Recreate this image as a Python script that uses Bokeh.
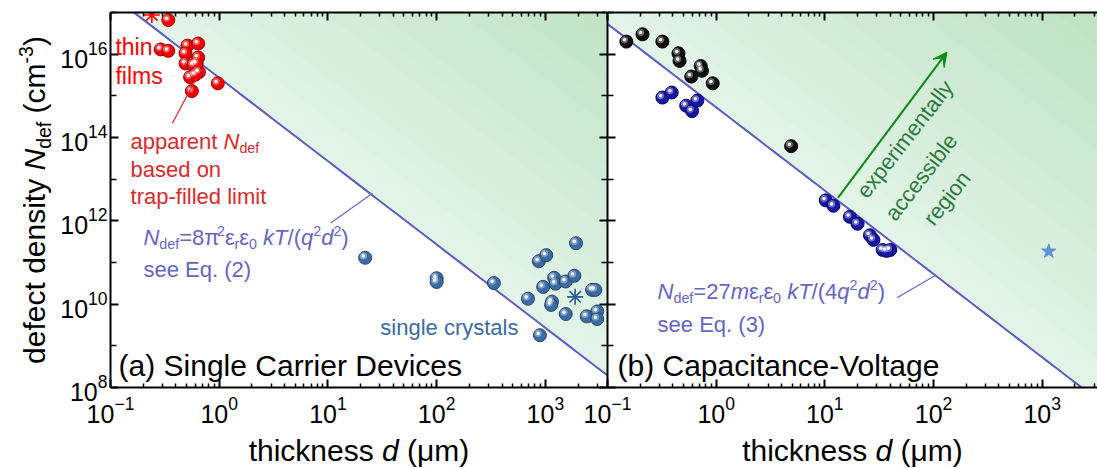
import numpy as np
from math import pi, cos, sin, log10
from bokeh.plotting import figure
from bokeh.models import (LogAxis, FixedTicker, Range1d, Label, Arrow, VeeHead,
                          CustomJSTickFormatter)
from bokeh.layouts import row, column
from bokeh.embed import file_html
from bokeh.resources import INLINE

FONT = "Liberation Sans"

# ---------------- data ----------------
# (a) single carrier devices -- thin films (apparent N_def from trap-filled limit)
thin_film_d = [0.34, 0.29, 0.34, 0.51, 0.64, 0.64, 0.49, 0.49, 0.58, 0.65, 0.54, 0.60, 0.56, 0.97, 0.62]
thin_film_n = [6.6e16, 1.3e16, 1.2e16, 1.6e16, 1.8e16, 8.3e15, 1.05e16, 6.0e15, 5.5e15,
               3.7e15, 2.8e15, 3.2e15, 1.3e15, 2.0e15, 6.0e15]
thin_film_star_d = [0.24]
thin_film_star_n = [8.7e16]
# (a) single crystals
crystal_d = [22, 100, 100, 336, 692, 891, 871, 1020, 1915, 955, 1205, 1240, 1540, 1850,
             1150, 1130, 1540, 2690, 2880, 2400, 3000, 3000]
crystal_n = [1.3e11, 4.2e10, 3.4e10, 3.2e10, 1.35e10, 1.8e9, 1.07e11, 1.5e11, 2.9e11, 2.6e10,
             4.3e10, 3.1e10, 3.5e10, 4.8e10, 1.15e10, 9.6e9, 5.8e9, 2.2e10, 2.2e10, 5.1e9, 6.7e9, 4.4e9]
crystal_star_d = [1880]
crystal_star_n = [1.5e10]
# (b) capacitance-voltage
cv_black_d = [0.149, 0.21, 0.32, 0.45, 0.46, 0.59, 0.72, 0.74, 0.93, 4.9]
cv_black_n = [2.0e16, 3.0e16, 2.0e16, 1.05e16, 6.9e15, 2.9e15, 5.2e15, 4.0e15, 2.0e15, 6.2e13]
cv_blue_d = [0.32, 0.39, 0.53, 0.60, 0.67, 10.2, 12, 17, 20, 26, 28, 34, 40, 37]
cv_blue_n = [9.1e14, 1.2e15, 5.8e14, 4.3e14, 7.7e14, 3.1e12, 2.3e12, 1.25e12, 8.5e11,
             4.5e11, 3.5e11, 2.0e11, 2.0e11, 1.9e11]
cv_star_d = [1150]
cv_star_n = [1.85e11]

# limit lines  N_def = C / d^2
C_SCLC = 2.7e15
C_CV = 5.3e14

x_range_a = (0.1, 3730)
x_range_b = (0.1, 3230)
y_range = (1e8, 1e17)
x_major = [0.1, 1, 10, 100, 1000]
x_minor = [m * 10.0 ** e for e in range(-1, 4) for m in range(2, 10)]
y_major = [1e8, 1e10, 1e12, 1e14, 1e16]
y_minor = [1e9, 1e11, 1e13, 1e15, 1e17]

# ---------------- geometry / styles ----------------
TOTAL_W = 1097
H = 468
TOP = 12
FRAME_H = 375
LEFT = 110
FRAME_A_W = 497
OVER = 25
FRAME_B_W = TOTAL_W - LEFT - FRAME_A_W
PXY = FRAME_H / 9.0
PXX_A = FRAME_A_W / log10(x_range_a[1] / x_range_a[0])
PXX_B = FRAME_B_W / log10(x_range_b[1] / x_range_b[0])
BASE_FIX = 0.3   # compensation for where the label baseline lands

LINE = "#5c5cc4"
FORM = "#6565c6"
RED = "#ff0000"
RED_TXT = "#d92b2b"
STEEL = "#3b6ba5"
GREEN_ARROW = "#0b8a12"
GREEN_TXT = "#2b7a3b"

W = {' ': 278, '(': 333, ')': 333, '-': 333, '.': 278, '/': 278, '=': 584, 'π': 576,
     'ε': 440, 'μ': 576, 'a': 556, 'b': 556, 'c': 500, 'd': 556, 'e': 556, 'f': 278,
     'g': 556, 'h': 556, 'i': 222, 'k': 500, 'l': 222, 'm': 833, 'n': 556, 'o': 556,
     'p': 556, 'q': 556, 'r': 333, 's': 500, 't': 278, 'u': 556, 'v': 500, 'y': 500,
     'C': 722, 'D': 722, 'E': 667, 'N': 722, 'S': 667, 'T': 611, 'V': 667}


def text_w(s, size):
    return sum(W.get(c, 556) for c in s) / 1000.0 * size


def rich(p, x, y, parts, size, color, angle=0.0, align="left", x_off=0.0, y_off=0.0):
    scale = {"n": 1.0, "i": 1.0, "sub": 0.65, "sup": 0.65}
    widths = [text_w(t, size * scale[k]) for t, k in parts]
    total = sum(widths)
    adv = {"left": 0.0, "center": -total / 2.0, "right": -total}[align]
    ca, sa = cos(angle), sin(angle)
    for (t, k), w in zip(parts, widths):
        fs = size * scale[k]
        lead = len(t) - len(t.lstrip(" "))
        shown = t.strip(" ")
        a = adv + text_w(" " * lead, fs)
        up = {"n": 0.0, "i": 0.0, "sub": -0.2 * size, "sup": 0.4 * size}[k] + BASE_FIX * fs
        ox = x_off + a * ca - up * sa
        oy = y_off + a * sa + up * ca
        if shown:
            p.add_layout(Label(x=x, y=y, text=shown, x_offset=ox, y_offset=oy, angle=angle,
                               text_font=FONT, text_font_size=f"{fs:.1f}px",
                               text_font_style="italic" if k == "i" else "normal",
                               text_color=color, text_align="left", text_baseline="alphabetic"))
        adv += w


def style_axis(ax, ticks, minor, tin, tout, mtin, mtout, labels=True, standoff=8):
    ax.ticker = FixedTicker(ticks=ticks, minor_ticks=minor)
    ax.axis_line_width = 2
    ax.axis_line_color = "black"
    ax.major_tick_line_width = 2
    ax.minor_tick_line_width = 1.5
    ax.major_tick_line_color = "black"
    ax.minor_tick_line_color = "black"
    ax.major_tick_in = tin
    ax.major_tick_out = tout
    ax.minor_tick_in = mtin
    ax.minor_tick_out = mtout
    ax.major_label_text_font = FONT
    ax.major_label_text_color = "black"
    if labels:
        ax.major_label_text_font_size = "25px"
        ax.major_label_standoff = standoff
    else:
        ax.formatter = CustomJSTickFormatter(code="return ''")
        ax.major_label_text_font_size = "0px"
        ax.major_label_standoff = 0


def make_fig(xr, frame_w, left_border):
    p = figure(width=left_border + frame_w, height=H, x_axis_type="log", y_axis_type="log",
               x_range=Range1d(*xr), y_range=Range1d(*y_range), title=None,
               output_backend="svg", toolbar_location=None,
               min_border_left=left_border, min_border_right=0,
               min_border_top=TOP, min_border_bottom=H - TOP - FRAME_H)
    p.outline_line_color = None
    p.grid.visible = False
    p.background_fill_color = "white"
    return p


def green_region(p, C, xr):
    ds = np.logspace(log10(xr[0]), log10(xr[1]), 300)
    xs, ys, alphas, colors = [], [], [], []
    for j in range(0, 19):
        k = 10 ** (0.5 * j)
        ns = np.clip(k * C / ds ** 2, y_range[0], y_range[1])
        xs.append(list(ds) + [xr[1], xr[0]])
        ys.append(list(ns) + [y_range[1], y_range[1]])
        if j == 0:
            colors.append("#e2f4e7")
            alphas.append(1.0)
        else:
            colors.append("#2f9e58")
            alphas.append(0.012)
    p.patches(xs, ys, fill_color=colors, fill_alpha=alphas, line_color=None)


def limit_line(p, C, xr):
    ds = np.logspace(log10(xr[0]), log10(xr[1]), 50)
    p.line(ds, C / ds ** 2, line_color=LINE, line_width=2)


def balls(p, d, n, base, edge, size, pxx):
    p.scatter(d, n, size=size, fill_color=base, line_color=edge, line_width=1)
    sh = size * 0.14
    hd = [v * 10 ** (-sh / pxx) for v in d]
    hn = [v * 10 ** (sh / PXY) for v in n]
    p.scatter(hd, hn, size=size * 0.55, fill_color="white", fill_alpha=0.35, line_color=None)
    p.scatter(hd, hn, size=size * 0.28, fill_color="white", fill_alpha=0.9, line_color=None)


# ================= panel (a) =================
p1 = make_fig(x_range_a, FRAME_A_W, LEFT)
p1.border_fill_color = "white"
style_axis(p1.xaxis[0], x_major, x_minor, 8, 0, 4, 0, standoff=8)
style_axis(p1.yaxis[0], y_major, y_minor, 8, 0, 6, 0, standoff=3)
top_a = LogAxis()
p1.add_layout(top_a, "above")
style_axis(top_a, x_major, x_minor, 8, 0, 4, 0, labels=False)

green_region(p1, C_SCLC, x_range_a)
limit_line(p1, C_SCLC, x_range_a)

balls(p1, crystal_d, crystal_n, STEEL, "#22466f", 13, PXX_A)
p1.scatter(crystal_star_d, crystal_star_n, marker="asterisk", size=16, line_color="#2d5a92", line_width=1.6)
balls(p1, thin_film_d, thin_film_n, "#f00000", "#a00000", 13, PXX_A)
p1.scatter(thin_film_star_d, thin_film_star_n, marker="asterisk", size=16, line_color=RED, line_width=1.6)

# pointers
p1.line([0.371, 0.618], [2.2e14, 2.7e15], line_color=RED_TXT, line_width=1.2)
p1.line([10.6, 25.7], [8.9e11, 4.6e12], line_color=FORM, line_width=1.2)

# annotations
rich(p1, 0.111, 1e16, [("thin", "n")], 23, RED)
rich(p1, 0.111, 2.02e15, [("films", "n")], 23, RED)
rich(p1, 0.153, 5.6e13, [("apparent ", "n"), ("N", "i"), ("def", "sub")], 22, RED_TXT)
rich(p1, 0.153, 1.2e13, [("based on", "n")], 22, RED_TXT)
rich(p1, 0.153, 2.6e12, [("trap-filled limit", "n")], 22, RED_TXT)
rich(p1, 0.201, 2.8e11, [("N", "i"), ("def", "sub"), ("=8π", "n"), ("2", "sup"), ("ε", "n"),
                         ("r", "sub"), ("ε", "n"), ("0", "sub"), (" ", "n"), ("kT", "i"),
                         ("/(", "n"), ("q", "i"), ("2", "sup"), ("d", "i"), ("2", "sup"), (")", "n")],
     22, FORM)
rich(p1, 0.201, 4.6e10, [("see Eq. (2)", "n")], 22, FORM)
rich(p1, 566, 1.95e9, [("single crystals", "n")], 22, STEEL, align="right")
rich(p1, 0.1186, 2.0e8, [("(a) Single Carrier Devices", "n")], 30, "black")

# ================= panel (b) =================
p2 = make_fig(x_range_b, FRAME_B_W, OVER)
p2.border_fill_alpha = 0.0
p2.border_fill_color = None
style_axis(p2.xaxis[0], x_major, x_minor, 8, 0, 4, 0, standoff=8)
style_axis(p2.yaxis[0], y_major, y_minor, 8, 8, 6, 6, labels=False)
top_b = LogAxis()
p2.add_layout(top_b, "above")
style_axis(top_b, x_major, x_minor, 8, 0, 4, 0, labels=False)

green_region(p2, C_CV, x_range_b)
limit_line(p2, C_CV, x_range_b)

balls(p2, cv_blue_d, cv_blue_n, "#1717a3", "#06066a", 13, PXX_B)
balls(p2, cv_black_d, cv_black_n, "#101010", "#000000", 13, PXX_B)
p2.scatter(cv_star_d, cv_star_n, marker="star", size=15, fill_color="#5b93d3", line_color="#5b93d3")

p2.line([46.1, 103], [1.43e10, 4.8e10], line_color=FORM, line_width=1.2)
p2.add_layout(Arrow(end=VeeHead(size=14, fill_color=GREEN_ARROW, line_color=GREEN_ARROW),
                    x_start=13.2, y_start=3.55e12, x_end=133, y_end=1.12e16,
                    line_color=GREEN_ARROW, line_width=2))

ang = 0.91
for (tx, ty, txt) in [(54.6, 9.1e13, "experimentally"), (76.7, 1.12e13, "accessible"),
                      (133, 3.5e12, "region")]:
    p2.add_layout(Label(x=tx, y=ty, text=txt, angle=ang, text_font=FONT, text_font_size="22px",
                        text_color=GREEN_TXT, text_align="center", text_baseline="middle"))

rich(p2, 0.289, 1.43e10, [("N", "i"), ("def", "sub"), ("=27", "n"), ("m", "i"), ("ε", "n"),
                          ("r", "sub"), ("ε", "n"), ("0", "sub"), (" ", "n"), ("kT", "i"),
                          ("/(4", "n"), ("q", "i"), ("2", "sup"), ("d", "i"), ("2", "sup"), (")", "n")],
     22, FORM)
rich(p2, 0.289, 2.3e9, [("see Eq. (3)", "n")], 22, FORM)
rich(p2, 0.1236, 2.05e8, [("(b) Capacitance-Voltage", "n")], 30, "black")
p2.styles = {"margin-left": f"-{OVER}px"}

# ================= transparent overlay for the axis titles =================
pov = figure(width=TOTAL_W, height=H, x_range=Range1d(0, TOTAL_W), y_range=Range1d(0, H),
             output_backend="svg", toolbar_location=None, x_axis_location=None,
             y_axis_location=None, min_border=0, title=None)
pov.outline_line_color = None
pov.grid.visible = False
pov.background_fill_alpha = 0.0
pov.border_fill_alpha = 0.0
pov.background_fill_color = None
pov.border_fill_color = None

rich(pov, 43, H - 199.5, [("defect density ", "n"), ("N", "i"), ("def", "sub"), (" (cm", "n"),
                          ("-3", "sup"), (")", "n")], 30, "black", angle=pi / 2, align="center")
rich(pov, LEFT + FRAME_A_W / 2.0, H - 459, [("thickness ", "n"), ("d", "i"), (" (μm)", "n")],
     30, "black", align="center")
rich(pov, LEFT + FRAME_A_W + 245, H - 459, [("thickness ", "n"), ("d", "i"), (" (μm)", "n")],
     30, "black", align="center")
pov.styles = {"margin-top": f"-{H}px"}

layout = column(row(p1, p2), pov)
open("out.html", "w").write(file_html(layout, INLINE))
